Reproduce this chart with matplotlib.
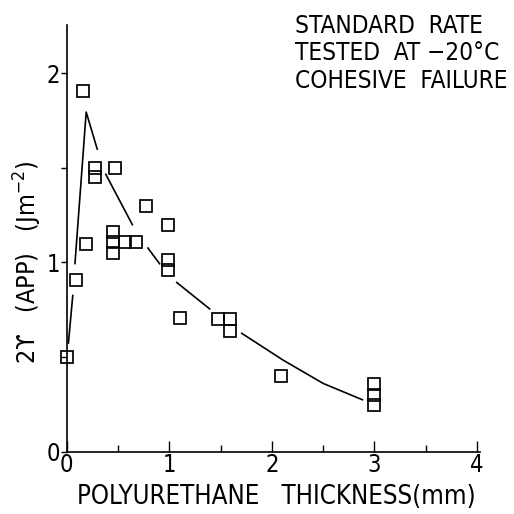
import matplotlib
matplotlib.use("Agg")
import matplotlib.pyplot as plt

plt.rcParams['font.family'] = ['DejaVu Sans']
plt.rcParams['font.stretch'] = 'condensed'
plt.rcParams['mathtext.fontset'] = 'custom'
plt.rcParams['mathtext.rm'] = 'DejaVu Sans:stretch=condensed'

# data points (thickness mm, 2gamma J/m^2)
thickness = [0.0, 0.09, 0.16, 0.19, 0.28, 0.28, 0.475, 0.455, 0.455, 0.455, 0.57, 0.68,
             0.77, 0.99, 0.99, 0.99, 1.10, 1.48, 1.59, 1.59, 2.09, 3.0, 3.0, 3.0]
energy = [0.50, 0.91, 1.905, 1.10, 1.50, 1.45, 1.50, 1.16, 1.11, 1.05, 1.11, 1.11,
          1.30, 1.20, 1.015, 0.96, 0.707, 0.70, 0.70, 0.64, 0.40, 0.36, 0.30, 0.245]

# hand-drawn trend curve, drawn in broken segments
curve_segments = [
    ([0.016, 0.06], [0.57, 0.83]),
    ([0.08, 0.19, 0.30], [0.99, 1.795, 1.595]),
    ([0.377, 0.644], [1.47, 1.196]),
    ([0.787, 0.91], [1.08, 0.99]),
    ([1.067, 1.40], [0.897, 0.752]),
    ([1.70, 2.11, 2.50, 2.89], [0.628, 0.484, 0.361, 0.273]),
]

x_major = [0, 1, 2, 3, 4]
x_minor = [0.5, 1.5, 2.5, 3.5]
y_major = [0, 1, 2]
y_minor = [0.5, 1.5]

W = H = 514
fig = plt.figure(figsize=(5.14, 5.14), dpi=100)
ax = fig.add_axes([66.7 / W, 1 - 451.7 / H, (480 - 66.7) / W, (451.7 - 25) / H])
ax.set_xlim(0, 4.03)
ax.set_ylim(0, 2.255)

for xs, ys in curve_segments:
    ax.plot(xs, ys, color='black', lw=1.2, solid_capstyle='butt')

ax.plot(thickness, energy, linestyle='none', marker='s', markersize=8.4,
        mfc='none', mec='black', mew=1.25, clip_on=False)

for s in ['top', 'right']:
    ax.spines[s].set_visible(False)
for s in ['left', 'bottom']:
    ax.spines[s].set_linewidth(1.2)

ax.set_xticks(x_major)
ax.set_xticks(x_minor, minor=True)
ax.set_yticks(y_major)
ax.set_yticks(y_minor, minor=True)
ax.tick_params(axis='x', which='major', direction='in', length=8, width=1.0,
               labelsize=17, pad=1)
ax.tick_params(axis='x', which='minor', direction='in', length=5, width=1.0)
ax.tick_params(axis='y', which='major', direction='out', length=4, width=1.0,
               labelsize=17, pad=1)
ax.tick_params(axis='y', which='minor', direction='out', length=4, width=1.0)

fig.text(276.5 / W, 1 - 497 / H, 'POLYURETHANE   THICKNESS(mm)', ha='center', va='center',
         fontsize=18.5)
fig.text(28 / W, 1 - 262.5 / H, '2ϒ   (APP)   (Jm$^{-2}$)', rotation=90, ha='center',
         va='center', fontsize=18)

lines = ['STANDARD  RATE', 'TESTED  AT \u221220°C', 'COHESIVE  FAILURE']
for i, t in enumerate(lines):
    fig.text(295 / W, 1 - (33 + 27.5 * i) / H, t, ha='left', va='baseline', fontsize=17.5)

fig.savefig('out.png', dpi=100, facecolor='white')
